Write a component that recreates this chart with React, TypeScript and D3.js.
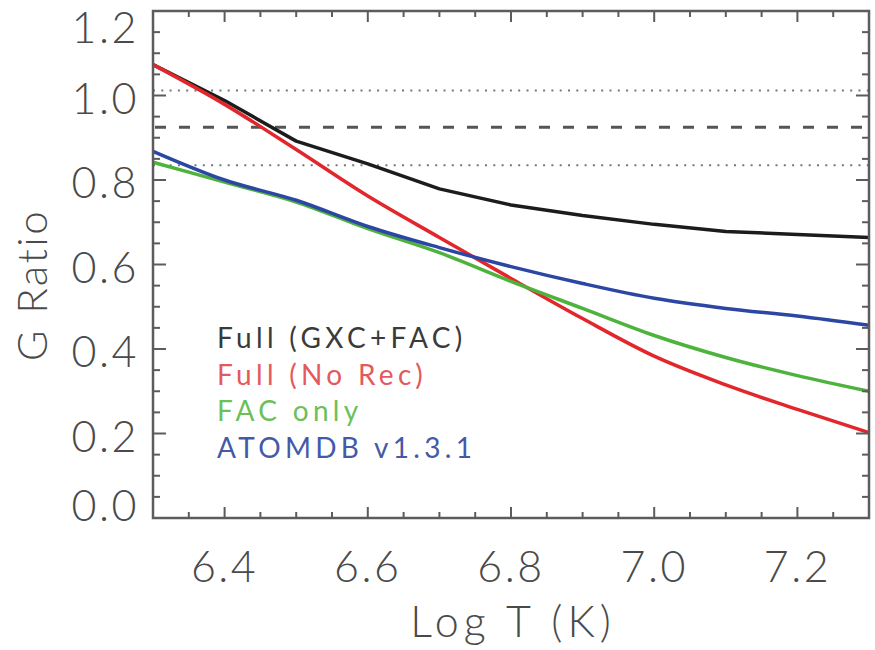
import React from "react";
import * as d3 from "d3";

const logT = [6.3, 6.4, 6.5, 6.6, 6.7, 6.8, 6.9, 7.0, 7.1, 7.2, 7.3];
const fullGxcFac = [1.073, 0.988, 0.892, 0.838, 0.779, 0.741, 0.716, 0.695, 0.678, 0.671, 0.664];
const fullNoRec = [1.073, 0.979, 0.872, 0.762, 0.664, 0.567, 0.472, 0.383, 0.315, 0.257, 0.202];
const facOnly = [0.842, 0.795, 0.748, 0.685, 0.628, 0.56, 0.496, 0.432, 0.38, 0.337, 0.3];
const atomdb = [0.868, 0.8, 0.752, 0.69, 0.64, 0.595, 0.555, 0.52, 0.496, 0.478, 0.456];

const seriesNames = ["Full (GXC+FAC)", "Full (No Rec)", "FAC only", "ATOMDB v1.3.1"];
const seriesValues = [fullGxcFac, fullNoRec, facOnly, atomdb];
const lineColors = ["#1c1c1c", "#e2262b", "#4db33d", "#2b47a3"];
const textColors = ["#3a3a3a", "#e35a5e", "#6cc05a", "#4459a8"];

const xTicks = [6.4, 6.6, 6.8, 7.0, 7.2];
const yTicks = [0.0, 0.2, 0.4, 0.6, 0.8, 1.0, 1.2];
const refDotted = [1.012, 0.835];
const refDashed = [0.925];

const W = 875, H = 650;
const L = 153, R = 869, T = 11, B = 518;
const FONT = "Lato, 'DejaVu Sans', sans-serif";

export default function App() {
  const x = d3.scaleLinear().domain([6.3, 7.3]).range([L, R]);
  const y = d3.scaleLinear().domain([0, 1.2]).range([B, T]);
  const minorX = d3.range(0, 21).map((i) => 6.3 + i * 0.05);
  const minorY = d3.range(0, 25).map((i) => i * 0.05);
  const isMajorX = (v: number) => xTicks.some((t) => Math.abs(t - v) < 1e-6);
  const isMajorY = (v: number) => yTicks.some((t) => Math.abs(t - v) < 1e-6);
  const lineSmooth = d3
    .line<number>()
    .x((_, i) => x(logT[i]))
    .y((d) => y(d))
    .curve(d3.curveMonotoneX);
  const lineStraight = d3
    .line<number>()
    .x((_, i) => x(logT[i]))
    .y((d) => y(d))
    .curve(d3.curveLinear);
  const axisColor = "#5c5c5c";
  const tickColor = "#4a4a4a";

  return (
    <svg width={W} height={H} style={{ position: "absolute", left: 0, top: 0, background: "#fff" }}>
      <rect x={0} y={0} width={W} height={H} fill="#fff" />
      {refDotted.map((v, i) => (
        <line key={"dt" + i} x1={L} x2={R} y1={y(v)} y2={y(v)} stroke="#777" strokeWidth={2} strokeDasharray="2 6.3" />
      ))}
      {refDashed.map((v, i) => (
        <line key={"ds" + i} x1={L + 2} x2={R} y1={y(v)} y2={y(v)} stroke="#555" strokeWidth={3} strokeDasharray="11 13" />
      ))}
      {seriesValues.map((vals, i) => (
        <path
          key={"s" + i}
          d={(i === 0 ? lineStraight(vals) : lineSmooth(vals)) || ""}
          fill="none"
          stroke={lineColors[i]}
          strokeWidth={3.5}
          strokeLinejoin="round"
        />
      ))}
      {minorX.map((v, i) => {
        const len = isMajorX(v) ? 11 : 6;
        return (
          <g key={"tx" + i}>
            <line x1={x(v)} x2={x(v)} y1={B} y2={B - len} stroke={axisColor} strokeWidth={2} />
            <line x1={x(v)} x2={x(v)} y1={T} y2={T + len} stroke={axisColor} strokeWidth={2} />
          </g>
        );
      })}
      {minorY.map((v, i) => {
        const len = isMajorY(v) ? 13 : 7;
        return (
          <g key={"ty" + i}>
            <line x1={L} x2={L + len} y1={y(v)} y2={y(v)} stroke={axisColor} strokeWidth={2} />
            <line x1={R} x2={R - len} y1={y(v)} y2={y(v)} stroke={axisColor} strokeWidth={2} />
          </g>
        );
      })}
      <rect x={L} y={T} width={R - L} height={B - T} fill="none" stroke={axisColor} strokeWidth={2.5} />
      {xTicks.map((v, i) => (
        <text key={"xl" + i} x={x(v)} y={582} textAnchor="middle" fontFamily={FONT} fontWeight={300} fontSize={43} letterSpacing={2.5} fill={tickColor}>
          {v.toFixed(1)}
        </text>
      ))}
      {yTicks.map((v, i) => {
        const cy = Math.min(Math.max(y(v) + 3, 28), 506);
        return (
          <text key={"yl" + i} x={139} y={cy} dy="0.36em" textAnchor="end" fontFamily={FONT} fontWeight={300} fontSize={43} letterSpacing={2.5} fill={tickColor}>
            {v.toFixed(1)}
          </text>
        );
      })}
      <text x={513} y={637} textAnchor="middle" fontFamily={FONT} fontWeight={300} fontSize={43} letterSpacing={5} fill={tickColor}>
        Log T (K)
      </text>
      <text transform="translate(47,285) rotate(-90)" textAnchor="middle" fontFamily={FONT} fontWeight={300} fontSize={42} letterSpacing={2.5} fill={tickColor}>
        G Ratio
      </text>
      {seriesNames.map((n, i) => (
        <text key={"lg" + i} x={217} y={348 + i * 36.5} fontFamily={FONT} fontWeight={400} fontSize={28} letterSpacing={4.3} fill={textColors[i]}>
          {n}
        </text>
      ))}
    </svg>
  );
}
